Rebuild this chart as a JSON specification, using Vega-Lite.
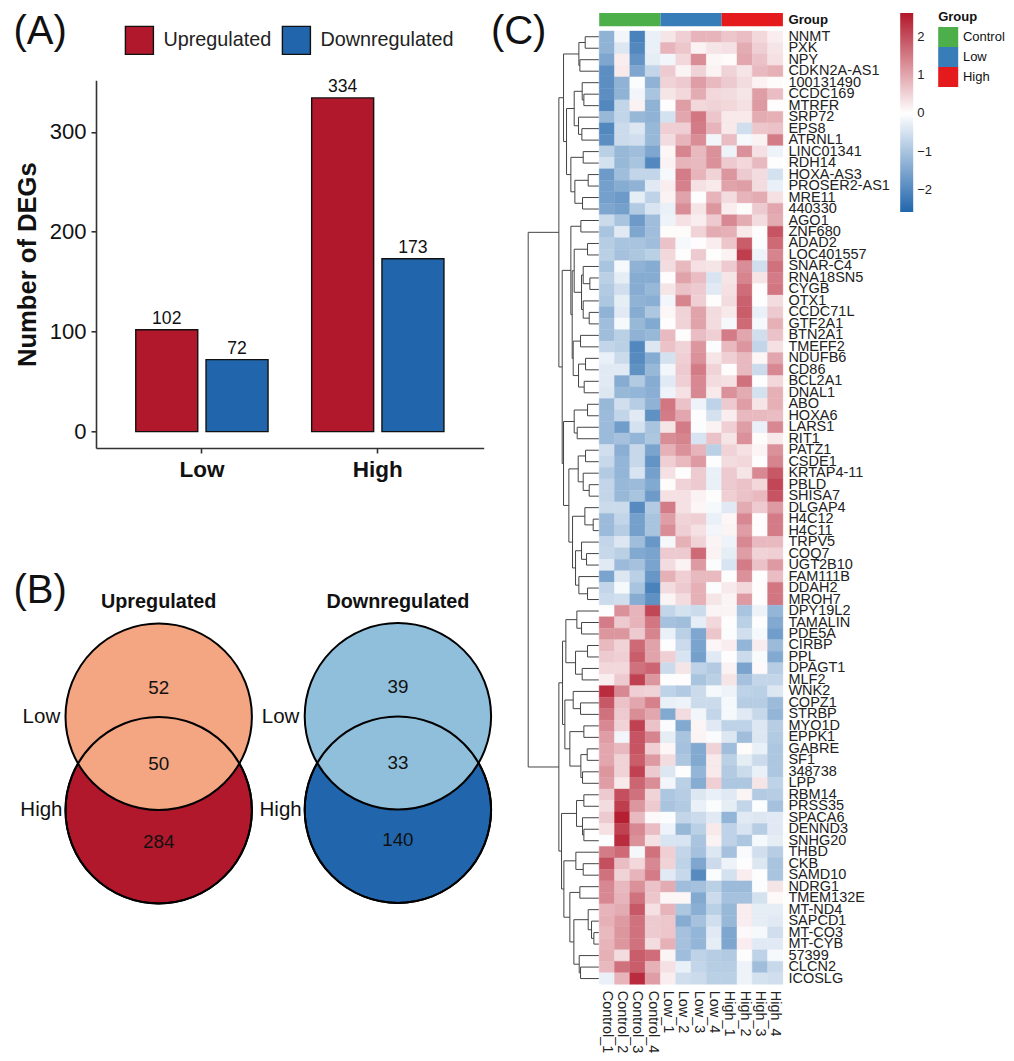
{"$schema":"https://vega.github.io/schema/vega-lite/v6.json","padding":{"left":13,"top":11,"right":0,"bottom":0},"spacing":-5.8,"config":{"font":"Liberation Sans","view":{"stroke":null}},"resolve":{"scale":{"color":"independent","fill":"independent"},"legend":{"color":"independent","fill":"independent"}},"hconcat":[{"bounds":"flush","spacing":66.3,"resolve":{"scale":{"color":"independent","fill":"independent"},"legend":{"color":"independent","fill":"independent"}},"vconcat":[{"width":387.7,"height":1,"data":{"values":[{"tag":"(A)"}]},"mark":{"type":"text","align":"left","baseline":"alphabetic","dx":-82.6,"dy":30.8,"fontSize":40,"color":"#111"},"encoding":{"x":{"value":0},"y":{"value":0},"text":{"field":"tag"}}},{"width":387.7,"height":367.7,"data":{"values":[{"group":"Low","direction":"Upregulated","n":102},{"group":"Low","direction":"Downregulated","n":72},{"group":"High","direction":"Upregulated","n":334},{"group":"High","direction":"Downregulated","n":173}]},"encoding":{"x":{"field":"group","type":"nominal","sort":["Low","High"],"scale":{"paddingInner":0.248,"paddingOuter":0.226},"axis":{"title":null,"labelAngle":0,"labelFontSize":22.5,"labelFontWeight":"bold","labelColor":"#111","domainColor":"#333","domainWidth":1.6,"tickColor":"#333","tickWidth":1.6,"tickSize":5,"labelPadding":5}},"xOffset":{"field":"direction","type":"nominal","sort":["Upregulated","Downregulated"],"scale":{"paddingInner":0.118,"paddingOuter":0}},"y":{"field":"n","type":"quantitative","stack":null,"scale":{"domain":[-16.4,351.6],"nice":false,"zero":false},"axis":{"title":"Number of DEGs","values":[0,100,200,300],"grid":false,"labelFontSize":22,"labelColor":"#111","titleFontSize":25.6,"titleFontWeight":"bold","titleColor":"#111","domainColor":"#333","domainWidth":1.6,"tickColor":"#333","tickWidth":1.6,"tickSize":5,"labelPadding":5,"titlePadding":9}}},"layer":[{"mark":{"type":"bar","stroke":"#111","strokeWidth":1.4},"encoding":{"fill":{"field":"direction","type":"nominal","sort":["Upregulated","Downregulated"],"scale":{"domain":["Upregulated","Downregulated"],"range":["#B2182B","#2166AC"]},"legend":{"orient":"none","legendX":28.4,"legendY":-55,"direction":"horizontal","title":null,"symbolType":"square","symbolSize":784,"symbolStrokeColor":"#111","symbolStrokeWidth":1.4,"labelFontSize":19.8,"labelColor":"#222","labelOffset":9,"columnPadding":8,"labelLimit":300,"padding":0}}}},{"mark":{"type":"text","baseline":"alphabetic","dy":-6,"fontSize":17.6,"color":"#111"},"encoding":{"text":{"field":"n","type":"quantitative"}}}]},{"width":387.7,"height":0.1,"data":{"values":[{"tag":"(B)"}]},"mark":{"type":"text","align":"left","baseline":"alphabetic","dx":-82.6,"dy":88.7,"fontSize":40,"color":"#111"},"encoding":{"x":{"value":0},"y":{"value":0},"text":{"field":"tag"}}},{"width":387.7,"height":340,"encoding":{"x":{"field":"panel","type":"nominal","axis":null,"scale":{"type":"point","domain":["Upregulated","Downregulated"],"range":[62.7,301.9],"padding":0}},"y":{"field":"level","type":"quantitative","axis":null,"scale":{"domain":[0.4,340.4],"reverse":true,"nice":false,"zero":false}}},"layer":[{"data":{"values":[{"panel":"Upregulated","set":"High","level":228.7,"shade":"Up High"},{"panel":"Downregulated","set":"High","level":228.2,"shade":"Down High"},{"panel":"Upregulated","set":"Low","level":135.3,"shade":"Up Low"},{"panel":"Downregulated","set":"Low","level":134.8,"shade":"Down Low"}]},"mark":{"type":"point","filled":true,"size":34745,"stroke":"#000","strokeWidth":2,"opacity":1},"encoding":{"fill":{"field":"shade","type":"nominal","legend":null,"scale":{"domain":["Up High","Down High","Up Low","Down Low"],"range":["#B2182B","#2166AC","#F4A582","#8FBFDB"]}}}},{"data":{"values":[{"panel":"Upregulated","level":228.7},{"panel":"Downregulated","level":228.2}]},"mark":{"type":"point","filled":false,"size":34745,"stroke":"#000","strokeWidth":2,"opacity":1}},{"data":{"values":[{"panel":"Upregulated","region":"Low only","n":52,"level":106},{"panel":"Upregulated","region":"Both","n":50,"level":182.3},{"panel":"Upregulated","region":"High only","n":284,"level":260},{"panel":"Downregulated","region":"Low only","n":39,"level":105.5},{"panel":"Downregulated","region":"Both","n":33,"level":181.5},{"panel":"Downregulated","region":"High only","n":140,"level":258.7}]},"mark":{"type":"text","fontSize":18.8,"baseline":"middle","color":"#111"},"encoding":{"text":{"field":"n","type":"quantitative"}}},{"data":{"values":[{"panel":"Upregulated","set":"Low","level":135.7},{"panel":"Upregulated","set":"High","level":228.5},{"panel":"Downregulated","set":"Low","level":135.5},{"panel":"Downregulated","set":"High","level":228}]},"mark":{"type":"text","fontSize":20.5,"baseline":"middle","align":"center","dx":-117.3,"color":"#111"},"encoding":{"text":{"field":"set","type":"nominal"}}},{"data":{"values":[{"panel":"Upregulated","level":20.7},{"panel":"Downregulated","level":20.3}]},"mark":{"type":"text","fontSize":19.8,"fontWeight":"bold","baseline":"middle","color":"#111"},"encoding":{"text":{"field":"panel","type":"nominal"}}}]}]},{"bounds":"flush","columns":2,"spacing":{"row":4,"column":0},"resolve":{"scale":{"color":"independent","fill":"independent"},"legend":{"color":"independent","fill":"independent"}},"concat":[{"width":70.67,"height":13.3,"data":{"values":[{"tag":"(C)"}]},"mark":{"type":"text","align":"left","baseline":"alphabetic","dx":-37.3,"dy":30.8,"fontSize":40,"color":"#111"},"encoding":{"x":{"value":0},"y":{"value":0},"text":{"field":"tag"}}},{"width":183.7,"height":13.3,"data":{"values":[{"track":"Group","group":"Control"},{"track":"Group","group":"Low"},{"track":"Group","group":"High"}]},"mark":{"type":"rect"},"encoding":{"x":{"field":"group","type":"nominal","sort":null,"axis":null,"scale":{"paddingInner":0,"paddingOuter":0}},"y":{"field":"track","type":"nominal","axis":{"orient":"right","title":null,"domain":false,"ticks":false,"labelPadding":5,"labelFontSize":13.2,"labelFontWeight":"bold","labelColor":"#111"}},"color":{"field":"group","type":"nominal","scale":{"domain":["Control","Low","High"],"range":["#4DAF4A","#377EB8","#E41A1C"]},"legend":{"orient":"none","legendX":339,"legendY":-2,"title":"Group","titleFontSize":13,"titleFontWeight":"bold","titleColor":"#111","titlePadding":3,"symbolType":"square","symbolSize":400,"symbolStrokeWidth":0,"symbolOpacity":1,"labelFontSize":13,"labelColor":"#111","labelOffset":4.7,"rowPadding":0,"padding":0}}}},{"width":70.67,"height":953.3,"data":{"values":[{"h":41,"l":0,"m":0,"a":0,"b":1},{"h":57,"l":0,"m":0,"a":2,"b":3},{"h":60,"l":41,"m":57,"a":0.5,"b":2.5},{"h":45,"l":0,"m":0,"a":5,"b":6},{"h":50,"l":0,"m":45,"a":4,"b":5.5},{"h":51,"l":0,"m":0,"a":8,"b":9},{"h":61,"l":0,"m":51,"a":7,"b":8.5},{"h":74,"l":50,"m":61,"a":4.75,"b":7.75},{"h":47,"l":0,"m":0,"a":10,"b":11},{"h":32,"l":0,"m":0,"a":12,"b":13},{"h":49,"l":0,"m":0,"a":14,"b":15},{"h":72,"l":32,"m":49,"a":12.5,"b":14.5},{"h":84,"l":47,"m":72,"a":10.5,"b":13.5},{"h":97,"l":74,"m":84,"a":6.25,"b":12},{"h":106,"l":60,"m":97,"a":1.5,"b":9.125},{"h":54,"l":0,"m":0,"a":16,"b":17},{"h":34,"l":0,"m":0,"a":18,"b":19},{"h":27,"l":0,"m":0,"a":21,"b":22},{"h":47,"l":0,"m":27,"a":20,"b":21.5},{"h":29,"l":0,"m":0,"a":24,"b":25},{"h":47,"l":0,"m":29,"a":23,"b":24.5},{"h":52,"l":47,"m":47,"a":20.75,"b":23.75},{"h":74,"l":34,"m":52,"a":18.5,"b":22.25},{"h":55,"l":0,"m":0,"a":26,"b":27},{"h":40,"l":0,"m":0,"a":28,"b":29},{"h":44,"l":0,"m":0,"a":30,"b":31},{"h":61,"l":40,"m":44,"a":28.5,"b":30.5},{"h":77,"l":55,"m":61,"a":26.5,"b":29.5},{"h":80,"l":74,"m":77,"a":20.375,"b":28},{"h":84,"l":54,"m":80,"a":16.5,"b":24.19},{"h":34,"l":0,"m":0,"a":32,"b":33},{"h":65,"l":0,"m":0,"a":34,"b":35},{"h":74,"l":34,"m":65,"a":32.5,"b":34.5},{"h":40,"l":0,"m":0,"a":36,"b":37},{"h":29,"l":0,"m":0,"a":39,"b":40},{"h":47,"l":0,"m":29,"a":38,"b":39.5},{"h":62,"l":40,"m":47,"a":36.5,"b":38.75},{"h":17,"l":0,"m":0,"a":42,"b":43},{"h":42,"l":0,"m":17,"a":41,"b":42.5},{"h":37,"l":0,"m":0,"a":45,"b":46},{"h":52,"l":0,"m":37,"a":44,"b":45.5},{"h":34,"l":0,"m":0,"a":48,"b":49},{"h":60,"l":0,"m":34,"a":47,"b":48.5},{"h":70,"l":52,"m":60,"a":44.75,"b":47.75},{"h":79,"l":42,"m":70,"a":41.75,"b":46.25},{"h":90,"l":62,"m":79,"a":37.625,"b":44},{"h":106,"l":74,"m":90,"a":33.5,"b":40.81},{"h":110,"l":84,"m":106,"a":20.34,"b":37.16},{"h":120,"l":106,"m":110,"a":5.31,"b":28.75},{"h":52,"l":0,"m":0,"a":51,"b":52},{"h":66,"l":0,"m":52,"a":50,"b":51.5},{"h":34,"l":0,"m":0,"a":53,"b":54},{"h":50,"l":0,"m":0,"a":55,"b":56},{"h":70,"l":34,"m":50,"a":53.5,"b":55.5},{"h":99,"l":66,"m":70,"a":50.75,"b":54.5},{"h":55,"l":0,"m":0,"a":58,"b":59},{"h":77,"l":0,"m":55,"a":57,"b":58.5},{"h":45,"l":0,"m":0,"a":60,"b":61},{"h":35,"l":0,"m":0,"a":62,"b":63},{"h":49,"l":0,"m":0,"a":64,"b":65},{"h":54,"l":35,"m":49,"a":62.5,"b":64.5},{"h":87,"l":45,"m":54,"a":60.5,"b":63.5},{"h":102,"l":77,"m":87,"a":57.75,"b":62},{"h":109,"l":99,"m":102,"a":52.625,"b":59.875},{"h":45,"l":0,"m":0,"a":66,"b":67},{"h":45,"l":0,"m":0,"a":69,"b":70},{"h":49,"l":0,"m":45,"a":68,"b":69.5},{"h":67,"l":45,"m":49,"a":66.5,"b":68.75},{"h":47,"l":0,"m":0,"a":72,"b":73},{"h":69,"l":0,"m":47,"a":71,"b":72.5},{"h":57,"l":0,"m":0,"a":74,"b":75},{"h":15,"l":0,"m":0,"a":78,"b":79},{"h":22,"l":0,"m":15,"a":77,"b":78.5},{"h":32,"l":0,"m":22,"a":76,"b":77.75},{"h":55,"l":0,"m":0,"a":81,"b":82},{"h":59,"l":0,"m":55,"a":80,"b":81.5},{"h":75,"l":32,"m":59,"a":76.875,"b":80.75},{"h":87,"l":57,"m":75,"a":74.5,"b":78.81},{"h":105,"l":69,"m":87,"a":71.75,"b":76.66},{"h":112,"l":67,"m":105,"a":67.625,"b":74.2},{"h":120,"l":109,"m":112,"a":56.25,"b":70.9},{"h":212,"l":120,"m":120,"a":17.03,"b":63.58}]},"layer":[{"mark":{"type":"rule","color":"#444","strokeWidth":1},"encoding":{"x":{"field":"h","type":"quantitative","axis":null,"scale":{"domain":[212,0],"nice":false,"zero":false}},"y":{"field":"a","type":"quantitative","axis":null,"scale":{"domain":[-0.5,82.5],"reverse":true,"nice":false,"zero":false}},"y2":{"field":"b"}}},{"mark":{"type":"rule","color":"#444","strokeWidth":1},"encoding":{"x":{"field":"l","type":"quantitative"},"x2":{"field":"h"},"y":{"field":"a","type":"quantitative"}}},{"mark":{"type":"rule","color":"#444","strokeWidth":1},"encoding":{"x":{"field":"m","type":"quantitative"},"x2":{"field":"h"},"y":{"field":"b","type":"quantitative"}}}]},{"width":183.7,"height":953.3,"data":{"values":[{"g":"NNMT","s":"Control_1","v":-1.3},{"g":"NNMT","s":"Control_2","v":-0.15},{"g":"NNMT","s":"Control_3","v":-2.1},{"g":"NNMT","s":"Control_4","v":-0.25},{"g":"NNMT","s":"Low_1","v":0.3},{"g":"NNMT","s":"Low_2","v":0.55},{"g":"NNMT","s":"Low_3","v":0.85},{"g":"NNMT","s":"Low_4","v":0.85},{"g":"NNMT","s":"High_1","v":0.65},{"g":"NNMT","s":"High_2","v":0.75},{"g":"NNMT","s":"High_3","v":0.45},{"g":"NNMT","s":"High_4","v":0.2},{"g":"PXK","s":"Control_1","v":-1.3},{"g":"PXK","s":"Control_2","v":-0.4},{"g":"PXK","s":"Control_3","v":-2},{"g":"PXK","s":"Control_4","v":-0.25},{"g":"PXK","s":"Low_1","v":0.85},{"g":"PXK","s":"Low_2","v":0.65},{"g":"PXK","s":"Low_3","v":0.15},{"g":"PXK","s":"Low_4","v":0.3},{"g":"PXK","s":"High_1","v":0.35},{"g":"PXK","s":"High_2","v":0.95},{"g":"PXK","s":"High_3","v":0.55},{"g":"PXK","s":"High_4","v":0.3},{"g":"NPY","s":"Control_1","v":-1.5},{"g":"NPY","s":"Control_2","v":0.2},{"g":"NPY","s":"Control_3","v":-1.8},{"g":"NPY","s":"Control_4","v":-0.3},{"g":"NPY","s":"Low_1","v":-0.15},{"g":"NPY","s":"Low_2","v":0.45},{"g":"NPY","s":"Low_3","v":1.3},{"g":"NPY","s":"Low_4","v":0.1},{"g":"NPY","s":"High_1","v":0.05},{"g":"NPY","s":"High_2","v":1},{"g":"NPY","s":"High_3","v":0.7},{"g":"NPY","s":"High_4","v":0.35},{"g":"CDKN2A-AS1","s":"Control_1","v":-1.9},{"g":"CDKN2A-AS1","s":"Control_2","v":0.25},{"g":"CDKN2A-AS1","s":"Control_3","v":-1.5},{"g":"CDKN2A-AS1","s":"Control_4","v":-0.7},{"g":"CDKN2A-AS1","s":"Low_1","v":0.6},{"g":"CDKN2A-AS1","s":"Low_2","v":0.12},{"g":"CDKN2A-AS1","s":"Low_3","v":0.5},{"g":"CDKN2A-AS1","s":"Low_4","v":0.15},{"g":"CDKN2A-AS1","s":"High_1","v":0.5},{"g":"CDKN2A-AS1","s":"High_2","v":0.3},{"g":"CDKN2A-AS1","s":"High_3","v":0.8},{"g":"CDKN2A-AS1","s":"High_4","v":0.9},{"g":"100131490","s":"Control_1","v":-1.9},{"g":"100131490","s":"Control_2","v":-1.3},{"g":"100131490","s":"Control_3","v":-0.05},{"g":"100131490","s":"Control_4","v":-1.3},{"g":"100131490","s":"Low_1","v":0.5},{"g":"100131490","s":"Low_2","v":0.6},{"g":"100131490","s":"Low_3","v":1.1},{"g":"100131490","s":"Low_4","v":0.8},{"g":"100131490","s":"High_1","v":0.6},{"g":"100131490","s":"High_2","v":0.4},{"g":"100131490","s":"High_3","v":0.15},{"g":"100131490","s":"High_4","v":0.05},{"g":"CCDC169","s":"Control_1","v":-1.9},{"g":"CCDC169","s":"Control_2","v":-1.3},{"g":"CCDC169","s":"Control_3","v":-0.15},{"g":"CCDC169","s":"Control_4","v":-1},{"g":"CCDC169","s":"Low_1","v":0.3},{"g":"CCDC169","s":"Low_2","v":0.45},{"g":"CCDC169","s":"Low_3","v":0.95},{"g":"CCDC169","s":"Low_4","v":0.45},{"g":"CCDC169","s":"High_1","v":0.4},{"g":"CCDC169","s":"High_2","v":0.3},{"g":"CCDC169","s":"High_3","v":1.1},{"g":"CCDC169","s":"High_4","v":0.75},{"g":"MTRFR","s":"Control_1","v":-2},{"g":"MTRFR","s":"Control_2","v":-0.7},{"g":"MTRFR","s":"Control_3","v":0.15},{"g":"MTRFR","s":"Control_4","v":-1.3},{"g":"MTRFR","s":"Low_1","v":0.03},{"g":"MTRFR","s":"Low_2","v":1.1},{"g":"MTRFR","s":"Low_3","v":0.45},{"g":"MTRFR","s":"Low_4","v":0.5},{"g":"MTRFR","s":"High_1","v":0.45},{"g":"MTRFR","s":"High_2","v":0.35},{"g":"MTRFR","s":"High_3","v":1.15},{"g":"MTRFR","s":"High_4","v":0.03},{"g":"SRP72","s":"Control_1","v":-1.2},{"g":"SRP72","s":"Control_2","v":-0.7},{"g":"SRP72","s":"Control_3","v":-1.2},{"g":"SRP72","s":"Control_4","v":-1.3},{"g":"SRP72","s":"Low_1","v":-0.5},{"g":"SRP72","s":"Low_2","v":1},{"g":"SRP72","s":"Low_3","v":1.55},{"g":"SRP72","s":"Low_4","v":0.65},{"g":"SRP72","s":"High_1","v":0.25},{"g":"SRP72","s":"High_2","v":0.25},{"g":"SRP72","s":"High_3","v":0.95},{"g":"SRP72","s":"High_4","v":0.9},{"g":"EPS8","s":"Control_1","v":-2},{"g":"EPS8","s":"Control_2","v":-0.6},{"g":"EPS8","s":"Control_3","v":-0.4},{"g":"EPS8","s":"Control_4","v":-1.2},{"g":"EPS8","s":"Low_1","v":0.55},{"g":"EPS8","s":"Low_2","v":0.55},{"g":"EPS8","s":"Low_3","v":1.5},{"g":"EPS8","s":"Low_4","v":0.85},{"g":"EPS8","s":"High_1","v":0.25},{"g":"EPS8","s":"High_2","v":-0.55},{"g":"EPS8","s":"High_3","v":0.65},{"g":"EPS8","s":"High_4","v":0.7},{"g":"ATRNL1","s":"Control_1","v":-1.9},{"g":"ATRNL1","s":"Control_2","v":-0.6},{"g":"ATRNL1","s":"Control_3","v":-0.55},{"g":"ATRNL1","s":"Control_4","v":-1.2},{"g":"ATRNL1","s":"Low_1","v":0.4},{"g":"ATRNL1","s":"Low_2","v":0.85},{"g":"ATRNL1","s":"Low_3","v":1.3},{"g":"ATRNL1","s":"Low_4","v":-0.15},{"g":"ATRNL1","s":"High_1","v":0.75},{"g":"ATRNL1","s":"High_2","v":-0.1},{"g":"ATRNL1","s":"High_3","v":0.15},{"g":"ATRNL1","s":"High_4","v":1.5},{"g":"LINC01341","s":"Control_1","v":-0.8},{"g":"LINC01341","s":"Control_2","v":-1.2},{"g":"LINC01341","s":"Control_3","v":-1.1},{"g":"LINC01341","s":"Control_4","v":-1.5},{"g":"LINC01341","s":"Low_1","v":0.1},{"g":"LINC01341","s":"Low_2","v":1.4},{"g":"LINC01341","s":"Low_3","v":0.8},{"g":"LINC01341","s":"Low_4","v":1.25},{"g":"LINC01341","s":"High_1","v":-0.2},{"g":"LINC01341","s":"High_2","v":1.25},{"g":"LINC01341","s":"High_3","v":0.35},{"g":"LINC01341","s":"High_4","v":-0.2},{"g":"RDH14","s":"Control_1","v":-0.5},{"g":"RDH14","s":"Control_2","v":-1.2},{"g":"RDH14","s":"Control_3","v":-1},{"g":"RDH14","s":"Control_4","v":-2},{"g":"RDH14","s":"Low_1","v":0.15},{"g":"RDH14","s":"Low_2","v":0.85},{"g":"RDH14","s":"Low_3","v":0.8},{"g":"RDH14","s":"Low_4","v":1.25},{"g":"RDH14","s":"High_1","v":0.6},{"g":"RDH14","s":"High_2","v":0.45},{"g":"RDH14","s":"High_3","v":0.8},{"g":"RDH14","s":"High_4","v":0.02},{"g":"HOXA-AS3","s":"Control_1","v":-1.7},{"g":"HOXA-AS3","s":"Control_2","v":-1.1},{"g":"HOXA-AS3","s":"Control_3","v":-0.7},{"g":"HOXA-AS3","s":"Control_4","v":-0.7},{"g":"HOXA-AS3","s":"Low_1","v":-0.1},{"g":"HOXA-AS3","s":"Low_2","v":1.5},{"g":"HOXA-AS3","s":"Low_3","v":0.85},{"g":"HOXA-AS3","s":"Low_4","v":0.5},{"g":"HOXA-AS3","s":"High_1","v":1.2},{"g":"HOXA-AS3","s":"High_2","v":0.6},{"g":"HOXA-AS3","s":"High_3","v":0.4},{"g":"HOXA-AS3","s":"High_4","v":-0.5},{"g":"PROSER2-AS1","s":"Control_1","v":-1.6},{"g":"PROSER2-AS1","s":"Control_2","v":-1.4},{"g":"PROSER2-AS1","s":"Control_3","v":-1.3},{"g":"PROSER2-AS1","s":"Control_4","v":-0.35},{"g":"PROSER2-AS1","s":"Low_1","v":0.2},{"g":"PROSER2-AS1","s":"Low_2","v":1.45},{"g":"PROSER2-AS1","s":"Low_3","v":0.35},{"g":"PROSER2-AS1","s":"Low_4","v":0.25},{"g":"PROSER2-AS1","s":"High_1","v":1.05},{"g":"PROSER2-AS1","s":"High_2","v":1.1},{"g":"PROSER2-AS1","s":"High_3","v":0.4},{"g":"PROSER2-AS1","s":"High_4","v":-0.25},{"g":"MRE11","s":"Control_1","v":-1.6},{"g":"MRE11","s":"Control_2","v":-1.7},{"g":"MRE11","s":"Control_3","v":-0.3},{"g":"MRE11","s":"Control_4","v":-0.75},{"g":"MRE11","s":"Low_1","v":0.15},{"g":"MRE11","s":"Low_2","v":1.05},{"g":"MRE11","s":"Low_3","v":0.02},{"g":"MRE11","s":"Low_4","v":0.85},{"g":"MRE11","s":"High_1","v":0.4},{"g":"MRE11","s":"High_2","v":0.85},{"g":"MRE11","s":"High_3","v":0.95},{"g":"MRE11","s":"High_4","v":0.35},{"g":"440330","s":"Control_1","v":-1.5},{"g":"440330","s":"Control_2","v":-1.6},{"g":"440330","s":"Control_3","v":-0.9},{"g":"440330","s":"Control_4","v":-0.45},{"g":"440330","s":"Low_1","v":-0.25},{"g":"440330","s":"Low_2","v":1.3},{"g":"440330","s":"Low_3","v":0.3},{"g":"440330","s":"Low_4","v":1.2},{"g":"440330","s":"High_1","v":0.2},{"g":"440330","s":"High_2","v":0.05},{"g":"440330","s":"High_3","v":0.6},{"g":"440330","s":"High_4","v":1},{"g":"AGO1","s":"Control_1","v":-0.6},{"g":"AGO1","s":"Control_2","v":-1},{"g":"AGO1","s":"Control_3","v":-1.7},{"g":"AGO1","s":"Control_4","v":-1.1},{"g":"AGO1","s":"Low_1","v":-0.2},{"g":"AGO1","s":"Low_2","v":0.35},{"g":"AGO1","s":"Low_3","v":0.2},{"g":"AGO1","s":"Low_4","v":0.6},{"g":"AGO1","s":"High_1","v":1.35},{"g":"AGO1","s":"High_2","v":0.95},{"g":"AGO1","s":"High_3","v":0.4},{"g":"AGO1","s":"High_4","v":0.95},{"g":"ZNF680","s":"Control_1","v":-1},{"g":"ZNF680","s":"Control_2","v":-0.35},{"g":"ZNF680","s":"Control_3","v":-1.5},{"g":"ZNF680","s":"Control_4","v":-1.1},{"g":"ZNF680","s":"Low_1","v":0.05},{"g":"ZNF680","s":"Low_2","v":0.05},{"g":"ZNF680","s":"Low_3","v":0.5},{"g":"ZNF680","s":"Low_4","v":0.95},{"g":"ZNF680","s":"High_1","v":0.9},{"g":"ZNF680","s":"High_2","v":0.25},{"g":"ZNF680","s":"High_3","v":0.02},{"g":"ZNF680","s":"High_4","v":1.95},{"g":"ADAD2","s":"Control_1","v":-0.85},{"g":"ADAD2","s":"Control_2","v":-1},{"g":"ADAD2","s":"Control_3","v":-1},{"g":"ADAD2","s":"Control_4","v":-1.1},{"g":"ADAD2","s":"Low_1","v":0.7},{"g":"ADAD2","s":"Low_2","v":-0.1},{"g":"ADAD2","s":"Low_3","v":0.03},{"g":"ADAD2","s":"Low_4","v":0.2},{"g":"ADAD2","s":"High_1","v":0.65},{"g":"ADAD2","s":"High_2","v":1.85},{"g":"ADAD2","s":"High_3","v":-0.05},{"g":"ADAD2","s":"High_4","v":1.7},{"g":"LOC401557","s":"Control_1","v":-0.8},{"g":"LOC401557","s":"Control_2","v":-1.05},{"g":"LOC401557","s":"Control_3","v":-0.95},{"g":"LOC401557","s":"Control_4","v":-0.8},{"g":"LOC401557","s":"Low_1","v":0.45},{"g":"LOC401557","s":"Low_2","v":0.02},{"g":"LOC401557","s":"Low_3","v":0.6},{"g":"LOC401557","s":"Low_4","v":0.02},{"g":"LOC401557","s":"High_1","v":0.15},{"g":"LOC401557","s":"High_2","v":2.2},{"g":"LOC401557","s":"High_3","v":-0.2},{"g":"LOC401557","s":"High_4","v":1.4},{"g":"SNAR-C4","s":"Control_1","v":-1},{"g":"SNAR-C4","s":"Control_2","v":-0.1},{"g":"SNAR-C4","s":"Control_3","v":-1.3},{"g":"SNAR-C4","s":"Control_4","v":-1.4},{"g":"SNAR-C4","s":"Low_1","v":0.4},{"g":"SNAR-C4","s":"Low_2","v":0.8},{"g":"SNAR-C4","s":"Low_3","v":0.35},{"g":"SNAR-C4","s":"Low_4","v":0.3},{"g":"SNAR-C4","s":"High_1","v":0.6},{"g":"SNAR-C4","s":"High_2","v":1.3},{"g":"SNAR-C4","s":"High_3","v":-0.55},{"g":"SNAR-C4","s":"High_4","v":1.6},{"g":"RNA18SN5","s":"Control_1","v":-0.8},{"g":"RNA18SN5","s":"Control_2","v":-0.3},{"g":"RNA18SN5","s":"Control_3","v":-1.4},{"g":"RNA18SN5","s":"Control_4","v":-1.4},{"g":"RNA18SN5","s":"Low_1","v":0.03},{"g":"RNA18SN5","s":"Low_2","v":1.05},{"g":"RNA18SN5","s":"Low_3","v":0.75},{"g":"RNA18SN5","s":"Low_4","v":-0.45},{"g":"RNA18SN5","s":"High_1","v":0.3},{"g":"RNA18SN5","s":"High_2","v":1.4},{"g":"RNA18SN5","s":"High_3","v":0.3},{"g":"RNA18SN5","s":"High_4","v":1.5},{"g":"CYGB","s":"Control_1","v":-0.9},{"g":"CYGB","s":"Control_2","v":-0.55},{"g":"CYGB","s":"Control_3","v":-1.4},{"g":"CYGB","s":"Control_4","v":-1.2},{"g":"CYGB","s":"Low_1","v":0.3},{"g":"CYGB","s":"Low_2","v":0.7},{"g":"CYGB","s":"Low_3","v":0.6},{"g":"CYGB","s":"Low_4","v":-0.35},{"g":"CYGB","s":"High_1","v":0.35},{"g":"CYGB","s":"High_2","v":1.65},{"g":"CYGB","s":"High_3","v":0.03},{"g":"CYGB","s":"High_4","v":1.55},{"g":"OTX1","s":"Control_1","v":-0.95},{"g":"OTX1","s":"Control_2","v":-0.3},{"g":"OTX1","s":"Control_3","v":-1.3},{"g":"OTX1","s":"Control_4","v":-1.35},{"g":"OTX1","s":"Low_1","v":-0.15},{"g":"OTX1","s":"Low_2","v":1.4},{"g":"OTX1","s":"Low_3","v":0.55},{"g":"OTX1","s":"Low_4","v":0.02},{"g":"OTX1","s":"High_1","v":0.4},{"g":"OTX1","s":"High_2","v":1.8},{"g":"OTX1","s":"High_3","v":0.02},{"g":"OTX1","s":"High_4","v":0.4},{"g":"CCDC71L","s":"Control_1","v":-1.3},{"g":"CCDC71L","s":"Control_2","v":-0.35},{"g":"CCDC71L","s":"Control_3","v":-1.4},{"g":"CCDC71L","s":"Control_4","v":-0.95},{"g":"CCDC71L","s":"Low_1","v":0.1},{"g":"CCDC71L","s":"Low_2","v":0.5},{"g":"CCDC71L","s":"Low_3","v":1.05},{"g":"CCDC71L","s":"Low_4","v":0.4},{"g":"CCDC71L","s":"High_1","v":0.25},{"g":"CCDC71L","s":"High_2","v":1.85},{"g":"CCDC71L","s":"High_3","v":-0.25},{"g":"CCDC71L","s":"High_4","v":0.6},{"g":"GTF2A1","s":"Control_1","v":-1.1},{"g":"GTF2A1","s":"Control_2","v":-0.1},{"g":"GTF2A1","s":"Control_3","v":-1.2},{"g":"GTF2A1","s":"Control_4","v":-1.45},{"g":"GTF2A1","s":"Low_1","v":0.03},{"g":"GTF2A1","s":"Low_2","v":0.5},{"g":"GTF2A1","s":"Low_3","v":1.05},{"g":"GTF2A1","s":"Low_4","v":0.4},{"g":"GTF2A1","s":"High_1","v":-0.1},{"g":"GTF2A1","s":"High_2","v":1.7},{"g":"GTF2A1","s":"High_3","v":-0.1},{"g":"GTF2A1","s":"High_4","v":0.9},{"g":"BTN2A1","s":"Control_1","v":-1.1},{"g":"BTN2A1","s":"Control_2","v":-0.8},{"g":"BTN2A1","s":"Control_3","v":-1.3},{"g":"BTN2A1","s":"Control_4","v":-1.2},{"g":"BTN2A1","s":"Low_1","v":0.8},{"g":"BTN2A1","s":"Low_2","v":0.02},{"g":"BTN2A1","s":"Low_3","v":0.75},{"g":"BTN2A1","s":"Low_4","v":0.55},{"g":"BTN2A1","s":"High_1","v":1.5},{"g":"BTN2A1","s":"High_2","v":1},{"g":"BTN2A1","s":"High_3","v":-0.55},{"g":"BTN2A1","s":"High_4","v":0.7},{"g":"TMEFF2","s":"Control_1","v":-0.7},{"g":"TMEFF2","s":"Control_2","v":-0.8},{"g":"TMEFF2","s":"Control_3","v":-2},{"g":"TMEFF2","s":"Control_4","v":-0.4},{"g":"TMEFF2","s":"Low_1","v":0.7},{"g":"TMEFF2","s":"Low_2","v":0.5},{"g":"TMEFF2","s":"Low_3","v":1.2},{"g":"TMEFF2","s":"Low_4","v":-0.05},{"g":"TMEFF2","s":"High_1","v":0.8},{"g":"TMEFF2","s":"High_2","v":1.2},{"g":"TMEFF2","s":"High_3","v":-0.7},{"g":"TMEFF2","s":"High_4","v":0.35},{"g":"NDUFB6","s":"Control_1","v":-0.25},{"g":"NDUFB6","s":"Control_2","v":-0.6},{"g":"NDUFB6","s":"Control_3","v":-1.95},{"g":"NDUFB6","s":"Control_4","v":-1.4},{"g":"NDUFB6","s":"Low_1","v":-0.5},{"g":"NDUFB6","s":"Low_2","v":0.55},{"g":"NDUFB6","s":"Low_3","v":1.25},{"g":"NDUFB6","s":"Low_4","v":0.3},{"g":"NDUFB6","s":"High_1","v":0.55},{"g":"NDUFB6","s":"High_2","v":0.8},{"g":"NDUFB6","s":"High_3","v":0.1},{"g":"NDUFB6","s":"High_4","v":1},{"g":"CD86","s":"Control_1","v":-0.35},{"g":"CD86","s":"Control_2","v":-0.35},{"g":"CD86","s":"Control_3","v":-1.85},{"g":"CD86","s":"Control_4","v":-1.2},{"g":"CD86","s":"Low_1","v":-0.15},{"g":"CD86","s":"Low_2","v":0.6},{"g":"CD86","s":"Low_3","v":1.5},{"g":"CD86","s":"Low_4","v":0.5},{"g":"CD86","s":"High_1","v":0.03},{"g":"CD86","s":"High_2","v":0.8},{"g":"CD86","s":"High_3","v":-0.6},{"g":"CD86","s":"High_4","v":1.35},{"g":"BCL2A1","s":"Control_1","v":-0.35},{"g":"BCL2A1","s":"Control_2","v":-1.4},{"g":"BCL2A1","s":"Control_3","v":-0.9},{"g":"BCL2A1","s":"Control_4","v":-1.4},{"g":"BCL2A1","s":"Low_1","v":-0.35},{"g":"BCL2A1","s":"Low_2","v":0.55},{"g":"BCL2A1","s":"Low_3","v":1.35},{"g":"BCL2A1","s":"Low_4","v":0.4},{"g":"BCL2A1","s":"High_1","v":0.35},{"g":"BCL2A1","s":"High_2","v":1.6},{"g":"BCL2A1","s":"High_3","v":0.02},{"g":"BCL2A1","s":"High_4","v":0.45},{"g":"DNAL1","s":"Control_1","v":-0.4},{"g":"DNAL1","s":"Control_2","v":-1.2},{"g":"DNAL1","s":"Control_3","v":-1.25},{"g":"DNAL1","s":"Control_4","v":-1.35},{"g":"DNAL1","s":"Low_1","v":-0.2},{"g":"DNAL1","s":"Low_2","v":0.35},{"g":"DNAL1","s":"Low_3","v":1.35},{"g":"DNAL1","s":"Low_4","v":0.25},{"g":"DNAL1","s":"High_1","v":1.25},{"g":"DNAL1","s":"High_2","v":0.95},{"g":"DNAL1","s":"High_3","v":-0.5},{"g":"DNAL1","s":"High_4","v":0.9},{"g":"ABO","s":"Control_1","v":-1.2},{"g":"ABO","s":"Control_2","v":-0.55},{"g":"ABO","s":"Control_3","v":-0.85},{"g":"ABO","s":"Control_4","v":-1.3},{"g":"ABO","s":"Low_1","v":1.55},{"g":"ABO","s":"Low_2","v":0.7},{"g":"ABO","s":"Low_3","v":-0.2},{"g":"ABO","s":"Low_4","v":-0.75},{"g":"ABO","s":"High_1","v":0.6},{"g":"ABO","s":"High_2","v":1.1},{"g":"ABO","s":"High_3","v":0.3},{"g":"ABO","s":"High_4","v":0.9},{"g":"HOXA6","s":"Control_1","v":-1.15},{"g":"HOXA6","s":"Control_2","v":-0.7},{"g":"HOXA6","s":"Control_3","v":-0.35},{"g":"HOXA6","s":"Control_4","v":-1.85},{"g":"HOXA6","s":"Low_1","v":1.5},{"g":"HOXA6","s":"Low_2","v":1},{"g":"HOXA6","s":"Low_3","v":0.02},{"g":"HOXA6","s":"Low_4","v":-0.5},{"g":"HOXA6","s":"High_1","v":0.2},{"g":"HOXA6","s":"High_2","v":0.8},{"g":"HOXA6","s":"High_3","v":0.8},{"g":"HOXA6","s":"High_4","v":0.75},{"g":"LARS1","s":"Control_1","v":-1.15},{"g":"LARS1","s":"Control_2","v":-1.65},{"g":"LARS1","s":"Control_3","v":-0.5},{"g":"LARS1","s":"Control_4","v":-1},{"g":"LARS1","s":"Low_1","v":0.3},{"g":"LARS1","s":"Low_2","v":1.5},{"g":"LARS1","s":"Low_3","v":-0.05},{"g":"LARS1","s":"Low_4","v":0.15},{"g":"LARS1","s":"High_1","v":0.55},{"g":"LARS1","s":"High_2","v":1.1},{"g":"LARS1","s":"High_3","v":-0.25},{"g":"LARS1","s":"High_4","v":1.35},{"g":"RIT1","s":"Control_1","v":-1.15},{"g":"RIT1","s":"Control_2","v":-1.05},{"g":"RIT1","s":"Control_3","v":-1.25},{"g":"RIT1","s":"Control_4","v":-0.95},{"g":"RIT1","s":"Low_1","v":1.3},{"g":"RIT1","s":"Low_2","v":1.4},{"g":"RIT1","s":"Low_3","v":-0.45},{"g":"RIT1","s":"Low_4","v":0.7},{"g":"RIT1","s":"High_1","v":0.3},{"g":"RIT1","s":"High_2","v":1.25},{"g":"RIT1","s":"High_3","v":0.05},{"g":"RIT1","s":"High_4","v":0.25},{"g":"PATZ1","s":"Control_1","v":-0.55},{"g":"PATZ1","s":"Control_2","v":-1.35},{"g":"PATZ1","s":"Control_3","v":-0.65},{"g":"PATZ1","s":"Control_4","v":-1.55},{"g":"PATZ1","s":"Low_1","v":0.9},{"g":"PATZ1","s":"Low_2","v":1.25},{"g":"PATZ1","s":"Low_3","v":0.85},{"g":"PATZ1","s":"Low_4","v":-0.8},{"g":"PATZ1","s":"High_1","v":0.5},{"g":"PATZ1","s":"High_2","v":0.35},{"g":"PATZ1","s":"High_3","v":0.12},{"g":"PATZ1","s":"High_4","v":1.25},{"g":"CSDE1","s":"Control_1","v":-0.65},{"g":"CSDE1","s":"Control_2","v":-1.25},{"g":"CSDE1","s":"Control_3","v":-0.65},{"g":"CSDE1","s":"Control_4","v":-1.8},{"g":"CSDE1","s":"Low_1","v":0.55},{"g":"CSDE1","s":"Low_2","v":0.8},{"g":"CSDE1","s":"Low_3","v":1.15},{"g":"CSDE1","s":"Low_4","v":0.02},{"g":"CSDE1","s":"High_1","v":0.4},{"g":"CSDE1","s":"High_2","v":0.45},{"g":"CSDE1","s":"High_3","v":0.02},{"g":"CSDE1","s":"High_4","v":1.4},{"g":"KRTAP4-11","s":"Control_1","v":-0.9},{"g":"KRTAP4-11","s":"Control_2","v":-1.25},{"g":"KRTAP4-11","s":"Control_3","v":-0.45},{"g":"KRTAP4-11","s":"Control_4","v":-1.6},{"g":"KRTAP4-11","s":"Low_1","v":0.35},{"g":"KRTAP4-11","s":"Low_2","v":0.02},{"g":"KRTAP4-11","s":"Low_3","v":0.6},{"g":"KRTAP4-11","s":"Low_4","v":-0.25},{"g":"KRTAP4-11","s":"High_1","v":0.6},{"g":"KRTAP4-11","s":"High_2","v":0.3},{"g":"KRTAP4-11","s":"High_3","v":1.35},{"g":"KRTAP4-11","s":"High_4","v":1.9},{"g":"PBLD","s":"Control_1","v":-0.7},{"g":"PBLD","s":"Control_2","v":-1.2},{"g":"PBLD","s":"Control_3","v":-1.15},{"g":"PBLD","s":"Control_4","v":-1.45},{"g":"PBLD","s":"Low_1","v":0.05},{"g":"PBLD","s":"Low_2","v":0.5},{"g":"PBLD","s":"Low_3","v":0.6},{"g":"PBLD","s":"Low_4","v":-0.25},{"g":"PBLD","s":"High_1","v":0.6},{"g":"PBLD","s":"High_2","v":0.7},{"g":"PBLD","s":"High_3","v":0.45},{"g":"PBLD","s":"High_4","v":2.1},{"g":"SHISA7","s":"Control_1","v":-0.7},{"g":"SHISA7","s":"Control_2","v":-1.2},{"g":"SHISA7","s":"Control_3","v":-1},{"g":"SHISA7","s":"Control_4","v":-1.7},{"g":"SHISA7","s":"Low_1","v":0.35},{"g":"SHISA7","s":"Low_2","v":0.35},{"g":"SHISA7","s":"Low_3","v":0.15},{"g":"SHISA7","s":"Low_4","v":0.02},{"g":"SHISA7","s":"High_1","v":0.55},{"g":"SHISA7","s":"High_2","v":0.7},{"g":"SHISA7","s":"High_3","v":0.8},{"g":"SHISA7","s":"High_4","v":1.95},{"g":"DLGAP4","s":"Control_1","v":-0.6},{"g":"DLGAP4","s":"Control_2","v":-0.6},{"g":"DLGAP4","s":"Control_3","v":-1.95},{"g":"DLGAP4","s":"Control_4","v":-0.9},{"g":"DLGAP4","s":"Low_1","v":1.5},{"g":"DLGAP4","s":"Low_2","v":0.35},{"g":"DLGAP4","s":"Low_3","v":0.1},{"g":"DLGAP4","s":"Low_4","v":-0.1},{"g":"DLGAP4","s":"High_1","v":-0.35},{"g":"DLGAP4","s":"High_2","v":0.95},{"g":"DLGAP4","s":"High_3","v":0.6},{"g":"DLGAP4","s":"High_4","v":1.15},{"g":"H4C12","s":"Control_1","v":-1.15},{"g":"H4C12","s":"Control_2","v":-0.7},{"g":"H4C12","s":"Control_3","v":-1.6},{"g":"H4C12","s":"Control_4","v":-1},{"g":"H4C12","s":"Low_1","v":1.1},{"g":"H4C12","s":"Low_2","v":0.5},{"g":"H4C12","s":"Low_3","v":0.55},{"g":"H4C12","s":"Low_4","v":-0.25},{"g":"H4C12","s":"High_1","v":0.1},{"g":"H4C12","s":"High_2","v":1.35},{"g":"H4C12","s":"High_3","v":0.03},{"g":"H4C12","s":"High_4","v":1.5},{"g":"H4C11","s":"Control_1","v":-1.15},{"g":"H4C11","s":"Control_2","v":-0.85},{"g":"H4C11","s":"Control_3","v":-1.6},{"g":"H4C11","s":"Control_4","v":-1},{"g":"H4C11","s":"Low_1","v":1.3},{"g":"H4C11","s":"Low_2","v":0.55},{"g":"H4C11","s":"Low_3","v":0.35},{"g":"H4C11","s":"Low_4","v":-0.15},{"g":"H4C11","s":"High_1","v":0.12},{"g":"H4C11","s":"High_2","v":1.1},{"g":"H4C11","s":"High_3","v":0.03},{"g":"H4C11","s":"High_4","v":1.5},{"g":"TRPV5","s":"Control_1","v":-0.7},{"g":"TRPV5","s":"Control_2","v":-0.4},{"g":"TRPV5","s":"Control_3","v":-1.1},{"g":"TRPV5","s":"Control_4","v":-1.75},{"g":"TRPV5","s":"Low_1","v":-0.12},{"g":"TRPV5","s":"Low_2","v":0.9},{"g":"TRPV5","s":"Low_3","v":0.5},{"g":"TRPV5","s":"Low_4","v":0.12},{"g":"TRPV5","s":"High_1","v":-0.2},{"g":"TRPV5","s":"High_2","v":1.35},{"g":"TRPV5","s":"High_3","v":0.8},{"g":"TRPV5","s":"High_4","v":0.8},{"g":"COQ7","s":"Control_1","v":-0.65},{"g":"COQ7","s":"Control_2","v":-0.8},{"g":"COQ7","s":"Control_3","v":-1.45},{"g":"COQ7","s":"Control_4","v":-1.55},{"g":"COQ7","s":"Low_1","v":0.6},{"g":"COQ7","s":"Low_2","v":0.6},{"g":"COQ7","s":"Low_3","v":1.7},{"g":"COQ7","s":"Low_4","v":0.15},{"g":"COQ7","s":"High_1","v":-0.3},{"g":"COQ7","s":"High_2","v":1.1},{"g":"COQ7","s":"High_3","v":0.5},{"g":"COQ7","s":"High_4","v":0.55},{"g":"UGT2B10","s":"Control_1","v":-0.35},{"g":"UGT2B10","s":"Control_2","v":-1.15},{"g":"UGT2B10","s":"Control_3","v":-1.05},{"g":"UGT2B10","s":"Control_4","v":-1.55},{"g":"UGT2B10","s":"Low_1","v":0.4},{"g":"UGT2B10","s":"Low_2","v":0.15},{"g":"UGT2B10","s":"Low_3","v":1.15},{"g":"UGT2B10","s":"Low_4","v":-0.05},{"g":"UGT2B10","s":"High_1","v":-0.45},{"g":"UGT2B10","s":"High_2","v":1.5},{"g":"UGT2B10","s":"High_3","v":0.7},{"g":"UGT2B10","s":"High_4","v":1.15},{"g":"FAM111B","s":"Control_1","v":-1.55},{"g":"FAM111B","s":"Control_2","v":-0.4},{"g":"FAM111B","s":"Control_3","v":-0.8},{"g":"FAM111B","s":"Control_4","v":-1.75},{"g":"FAM111B","s":"Low_1","v":0.9},{"g":"FAM111B","s":"Low_2","v":0.55},{"g":"FAM111B","s":"Low_3","v":0.8},{"g":"FAM111B","s":"Low_4","v":0.8},{"g":"FAM111B","s":"High_1","v":0.02},{"g":"FAM111B","s":"High_2","v":1.25},{"g":"FAM111B","s":"High_3","v":0.02},{"g":"FAM111B","s":"High_4","v":0.75},{"g":"DDAH2","s":"Control_1","v":-0.7},{"g":"DDAH2","s":"Control_2","v":-0.1},{"g":"DDAH2","s":"Control_3","v":-1},{"g":"DDAH2","s":"Control_4","v":-2.1},{"g":"DDAH2","s":"Low_1","v":0.4},{"g":"DDAH2","s":"Low_2","v":0.6},{"g":"DDAH2","s":"Low_3","v":0.9},{"g":"DDAH2","s":"Low_4","v":-0.05},{"g":"DDAH2","s":"High_1","v":0.25},{"g":"DDAH2","s":"High_2","v":0.45},{"g":"DDAH2","s":"High_3","v":0.03},{"g":"DDAH2","s":"High_4","v":1.55},{"g":"MROH7","s":"Control_1","v":-0.6},{"g":"MROH7","s":"Control_2","v":-0.55},{"g":"MROH7","s":"Control_3","v":-1.4},{"g":"MROH7","s":"Control_4","v":-1.85},{"g":"MROH7","s":"Low_1","v":0.12},{"g":"MROH7","s":"Low_2","v":0.4},{"g":"MROH7","s":"Low_3","v":0.9},{"g":"MROH7","s":"Low_4","v":0.3},{"g":"MROH7","s":"High_1","v":0.12},{"g":"MROH7","s":"High_2","v":1.15},{"g":"MROH7","s":"High_3","v":0.02},{"g":"MROH7","s":"High_4","v":1.55},{"g":"DPY19L2","s":"Control_1","v":0.02},{"g":"DPY19L2","s":"Control_2","v":1.25},{"g":"DPY19L2","s":"Control_3","v":0.85},{"g":"DPY19L2","s":"Control_4","v":2.1},{"g":"DPY19L2","s":"Low_1","v":-0.7},{"g":"DPY19L2","s":"Low_2","v":-0.5},{"g":"DPY19L2","s":"Low_3","v":-0.6},{"g":"DPY19L2","s":"Low_4","v":0.12},{"g":"DPY19L2","s":"High_1","v":0.12},{"g":"DPY19L2","s":"High_2","v":-1},{"g":"DPY19L2","s":"High_3","v":-0.2},{"g":"DPY19L2","s":"High_4","v":-1.25},{"g":"TAMALIN","s":"Control_1","v":1.5},{"g":"TAMALIN","s":"Control_2","v":0.6},{"g":"TAMALIN","s":"Control_3","v":0.85},{"g":"TAMALIN","s":"Control_4","v":1.55},{"g":"TAMALIN","s":"Low_1","v":-1.05},{"g":"TAMALIN","s":"Low_2","v":-1.1},{"g":"TAMALIN","s":"Low_3","v":-0.3},{"g":"TAMALIN","s":"Low_4","v":0.45},{"g":"TAMALIN","s":"High_1","v":0.02},{"g":"TAMALIN","s":"High_2","v":-0.8},{"g":"TAMALIN","s":"High_3","v":0.02},{"g":"TAMALIN","s":"High_4","v":-1.45},{"g":"PDE5A","s":"Control_1","v":1.2},{"g":"PDE5A","s":"Control_2","v":1.2},{"g":"PDE5A","s":"Control_3","v":0.6},{"g":"PDE5A","s":"Control_4","v":1.4},{"g":"PDE5A","s":"Low_1","v":-0.25},{"g":"PDE5A","s":"Low_2","v":-0.8},{"g":"PDE5A","s":"Low_3","v":-1.5},{"g":"PDE5A","s":"Low_4","v":0.65},{"g":"PDE5A","s":"High_1","v":-0.05},{"g":"PDE5A","s":"High_2","v":-0.55},{"g":"PDE5A","s":"High_3","v":-0.1},{"g":"PDE5A","s":"High_4","v":-1.65},{"g":"CIRBP","s":"Control_1","v":0.8},{"g":"CIRBP","s":"Control_2","v":0.5},{"g":"CIRBP","s":"Control_3","v":1.7},{"g":"CIRBP","s":"Control_4","v":1.05},{"g":"CIRBP","s":"Low_1","v":0.02},{"g":"CIRBP","s":"Low_2","v":-0.6},{"g":"CIRBP","s":"Low_3","v":-1.55},{"g":"CIRBP","s":"Low_4","v":0.1},{"g":"CIRBP","s":"High_1","v":0.2},{"g":"CIRBP","s":"High_2","v":-1.25},{"g":"CIRBP","s":"High_3","v":0.2},{"g":"CIRBP","s":"High_4","v":-1.15},{"g":"PPL","s":"Control_1","v":0.6},{"g":"PPL","s":"Control_2","v":0.55},{"g":"PPL","s":"Control_3","v":1.85},{"g":"PPL","s":"Control_4","v":1.05},{"g":"PPL","s":"Low_1","v":0.55},{"g":"PPL","s":"Low_2","v":-0.45},{"g":"PPL","s":"Low_3","v":-1.6},{"g":"PPL","s":"Low_4","v":-0.35},{"g":"PPL","s":"High_1","v":0.03},{"g":"PPL","s":"High_2","v":-0.6},{"g":"PPL","s":"High_3","v":-0.08},{"g":"PPL","s":"High_4","v":-1.45},{"g":"DPAGT1","s":"Control_1","v":0.45},{"g":"DPAGT1","s":"Control_2","v":0.45},{"g":"DPAGT1","s":"Control_3","v":1.6},{"g":"DPAGT1","s":"Control_4","v":1.75},{"g":"DPAGT1","s":"Low_1","v":-0.6},{"g":"DPAGT1","s":"Low_2","v":0.3},{"g":"DPAGT1","s":"Low_3","v":-0.75},{"g":"DPAGT1","s":"Low_4","v":-0.9},{"g":"DPAGT1","s":"High_1","v":0.15},{"g":"DPAGT1","s":"High_2","v":-1.55},{"g":"DPAGT1","s":"High_3","v":0.08},{"g":"DPAGT1","s":"High_4","v":-0.85},{"g":"MLF2","s":"Control_1","v":0.2},{"g":"MLF2","s":"Control_2","v":0.6},{"g":"MLF2","s":"Control_3","v":2.15},{"g":"MLF2","s":"Control_4","v":1.2},{"g":"MLF2","s":"Low_1","v":0.02},{"g":"MLF2","s":"Low_2","v":0.03},{"g":"MLF2","s":"Low_3","v":-1},{"g":"MLF2","s":"Low_4","v":-0.8},{"g":"MLF2","s":"High_1","v":0.3},{"g":"MLF2","s":"High_2","v":-1.05},{"g":"MLF2","s":"High_3","v":-0.7},{"g":"MLF2","s":"High_4","v":-0.7},{"g":"WNK2","s":"Control_1","v":2.4},{"g":"WNK2","s":"Control_2","v":1.35},{"g":"WNK2","s":"Control_3","v":0.55},{"g":"WNK2","s":"Control_4","v":0.5},{"g":"WNK2","s":"Low_1","v":-0.75},{"g":"WNK2","s":"Low_2","v":-0.9},{"g":"WNK2","s":"Low_3","v":-0.6},{"g":"WNK2","s":"Low_4","v":-0.1},{"g":"WNK2","s":"High_1","v":-0.2},{"g":"WNK2","s":"High_2","v":-0.75},{"g":"WNK2","s":"High_3","v":-0.8},{"g":"WNK2","s":"High_4","v":-0.4},{"g":"COPZ1","s":"Control_1","v":1.9},{"g":"COPZ1","s":"Control_2","v":0.7},{"g":"COPZ1","s":"Control_3","v":1},{"g":"COPZ1","s":"Control_4","v":1.45},{"g":"COPZ1","s":"Low_1","v":-0.25},{"g":"COPZ1","s":"Low_2","v":-0.2},{"g":"COPZ1","s":"Low_3","v":-0.6},{"g":"COPZ1","s":"Low_4","v":-0.6},{"g":"COPZ1","s":"High_1","v":-0.1},{"g":"COPZ1","s":"High_2","v":-0.85},{"g":"COPZ1","s":"High_3","v":-0.85},{"g":"COPZ1","s":"High_4","v":-1.15},{"g":"STRBP","s":"Control_1","v":1.6},{"g":"STRBP","s":"Control_2","v":0.6},{"g":"STRBP","s":"Control_3","v":1.3},{"g":"STRBP","s":"Control_4","v":1},{"g":"STRBP","s":"Low_1","v":-1.45},{"g":"STRBP","s":"Low_2","v":0.4},{"g":"STRBP","s":"Low_3","v":-0.15},{"g":"STRBP","s":"Low_4","v":-0.7},{"g":"STRBP","s":"High_1","v":-0.1},{"g":"STRBP","s":"High_2","v":-0.35},{"g":"STRBP","s":"High_3","v":-0.65},{"g":"STRBP","s":"High_4","v":-1.25},{"g":"MYO1D","s":"Control_1","v":1.35},{"g":"MYO1D","s":"Control_2","v":0.5},{"g":"MYO1D","s":"Control_3","v":2.15},{"g":"MYO1D","s":"Control_4","v":0.7},{"g":"MYO1D","s":"Low_1","v":-0.07},{"g":"MYO1D","s":"Low_2","v":-1.45},{"g":"MYO1D","s":"Low_3","v":0.12},{"g":"MYO1D","s":"Low_4","v":-0.35},{"g":"MYO1D","s":"High_1","v":-0.75},{"g":"MYO1D","s":"High_2","v":-0.75},{"g":"MYO1D","s":"High_3","v":-0.4},{"g":"MYO1D","s":"High_4","v":-0.85},{"g":"EPPK1","s":"Control_1","v":1.1},{"g":"EPPK1","s":"Control_2","v":-0.15},{"g":"EPPK1","s":"Control_3","v":1.95},{"g":"EPPK1","s":"Control_4","v":1.4},{"g":"EPPK1","s":"Low_1","v":-0.3},{"g":"EPPK1","s":"Low_2","v":-1},{"g":"EPPK1","s":"Low_3","v":0.12},{"g":"EPPK1","s":"Low_4","v":-0.07},{"g":"EPPK1","s":"High_1","v":-0.4},{"g":"EPPK1","s":"High_2","v":-1.1},{"g":"EPPK1","s":"High_3","v":-0.4},{"g":"EPPK1","s":"High_4","v":-0.9},{"g":"GABRE","s":"Control_1","v":1},{"g":"GABRE","s":"Control_2","v":0.8},{"g":"GABRE","s":"Control_3","v":1.95},{"g":"GABRE","s":"Control_4","v":0.55},{"g":"GABRE","s":"Low_1","v":0.1},{"g":"GABRE","s":"Low_2","v":-1.05},{"g":"GABRE","s":"Low_3","v":-1.45},{"g":"GABRE","s":"Low_4","v":0.5},{"g":"GABRE","s":"High_1","v":-1.1},{"g":"GABRE","s":"High_2","v":0.05},{"g":"GABRE","s":"High_3","v":-0.25},{"g":"GABRE","s":"High_4","v":-0.95},{"g":"SF1","s":"Control_1","v":1},{"g":"SF1","s":"Control_2","v":0.5},{"g":"SF1","s":"Control_3","v":1.85},{"g":"SF1","s":"Control_4","v":1.15},{"g":"SF1","s":"Low_1","v":0.4},{"g":"SF1","s":"Low_2","v":-0.95},{"g":"SF1","s":"Low_3","v":-1.45},{"g":"SF1","s":"Low_4","v":0.25},{"g":"SF1","s":"High_1","v":-0.8},{"g":"SF1","s":"High_2","v":-0.3},{"g":"SF1","s":"High_3","v":-0.6},{"g":"SF1","s":"High_4","v":-0.95},{"g":"348738","s":"Control_1","v":1.2},{"g":"348738","s":"Control_2","v":0.5},{"g":"348738","s":"Control_3","v":2.15},{"g":"348738","s":"Control_4","v":0.6},{"g":"348738","s":"Low_1","v":-0.4},{"g":"348738","s":"Low_2","v":0.02},{"g":"348738","s":"Low_3","v":-1.25},{"g":"348738","s":"Low_4","v":0.25},{"g":"348738","s":"High_1","v":-0.9},{"g":"348738","s":"High_2","v":-0.6},{"g":"348738","s":"High_3","v":-0.25},{"g":"348738","s":"High_4","v":-0.95},{"g":"LPP","s":"Control_1","v":1.1},{"g":"LPP","s":"Control_2","v":0.25},{"g":"LPP","s":"Control_3","v":1.75},{"g":"LPP","s":"Control_4","v":1.3},{"g":"LPP","s":"Low_1","v":-0.15},{"g":"LPP","s":"Low_2","v":-0.8},{"g":"LPP","s":"Low_3","v":-1.4},{"g":"LPP","s":"Low_4","v":0.55},{"g":"LPP","s":"High_1","v":-0.95},{"g":"LPP","s":"High_2","v":-0.95},{"g":"LPP","s":"High_3","v":0.3},{"g":"LPP","s":"High_4","v":-0.75},{"g":"RBM14","s":"Control_1","v":0.6},{"g":"RBM14","s":"Control_2","v":2},{"g":"RBM14","s":"Control_3","v":1.6},{"g":"RBM14","s":"Control_4","v":0.5},{"g":"RBM14","s":"Low_1","v":-0.95},{"g":"RBM14","s":"Low_2","v":-0.85},{"g":"RBM14","s":"Low_3","v":-0.4},{"g":"RBM14","s":"Low_4","v":-0.25},{"g":"RBM14","s":"High_1","v":-0.35},{"g":"RBM14","s":"High_2","v":0.12},{"g":"RBM14","s":"High_3","v":-0.9},{"g":"RBM14","s":"High_4","v":-0.85},{"g":"PRSS35","s":"Control_1","v":0.4},{"g":"PRSS35","s":"Control_2","v":2.2},{"g":"PRSS35","s":"Control_3","v":1.2},{"g":"PRSS35","s":"Control_4","v":0.6},{"g":"PRSS35","s":"Low_1","v":-1},{"g":"PRSS35","s":"Low_2","v":-0.9},{"g":"PRSS35","s":"Low_3","v":-0.25},{"g":"PRSS35","s":"Low_4","v":-0.05},{"g":"PRSS35","s":"High_1","v":-0.3},{"g":"PRSS35","s":"High_2","v":-0.7},{"g":"PRSS35","s":"High_3","v":-0.05},{"g":"PRSS35","s":"High_4","v":-1.05},{"g":"SPACA6","s":"Control_1","v":0.6},{"g":"SPACA6","s":"Control_2","v":2.55},{"g":"SPACA6","s":"Control_3","v":0.8},{"g":"SPACA6","s":"Control_4","v":0.08},{"g":"SPACA6","s":"Low_1","v":-0.05},{"g":"SPACA6","s":"Low_2","v":-0.7},{"g":"SPACA6","s":"Low_3","v":-0.6},{"g":"SPACA6","s":"Low_4","v":-0.35},{"g":"SPACA6","s":"High_1","v":-1.25},{"g":"SPACA6","s":"High_2","v":-0.35},{"g":"SPACA6","s":"High_3","v":-0.4},{"g":"SPACA6","s":"High_4","v":-0.35},{"g":"DENND3","s":"Control_1","v":0.35},{"g":"DENND3","s":"Control_2","v":2.15},{"g":"DENND3","s":"Control_3","v":1.35},{"g":"DENND3","s":"Control_4","v":0.75},{"g":"DENND3","s":"Low_1","v":-0.2},{"g":"DENND3","s":"Low_2","v":-1.2},{"g":"DENND3","s":"Low_3","v":-0.8},{"g":"DENND3","s":"Low_4","v":0.25},{"g":"DENND3","s":"High_1","v":-0.75},{"g":"DENND3","s":"High_2","v":-0.45},{"g":"DENND3","s":"High_3","v":-0.85},{"g":"DENND3","s":"High_4","v":-0.35},{"g":"SNHG20","s":"Control_1","v":-0.05},{"g":"SNHG20","s":"Control_2","v":2.4},{"g":"SNHG20","s":"Control_3","v":1.25},{"g":"SNHG20","s":"Control_4","v":0.35},{"g":"SNHG20","s":"Low_1","v":-0.45},{"g":"SNHG20","s":"Low_2","v":-0.45},{"g":"SNHG20","s":"Low_3","v":-1},{"g":"SNHG20","s":"Low_4","v":0.15},{"g":"SNHG20","s":"High_1","v":-0.75},{"g":"SNHG20","s":"High_2","v":-0.95},{"g":"SNHG20","s":"High_3","v":-0.1},{"g":"SNHG20","s":"High_4","v":-0.3},{"g":"THBD","s":"Control_1","v":1.5},{"g":"THBD","s":"Control_2","v":1.7},{"g":"THBD","s":"Control_3","v":-0.12},{"g":"THBD","s":"Control_4","v":1.6},{"g":"THBD","s":"Low_1","v":0.55},{"g":"THBD","s":"Low_2","v":-0.7},{"g":"THBD","s":"Low_3","v":-1.05},{"g":"THBD","s":"Low_4","v":-0.4},{"g":"THBD","s":"High_1","v":-1.05},{"g":"THBD","s":"High_2","v":-0.08},{"g":"THBD","s":"High_3","v":-0.55},{"g":"THBD","s":"High_4","v":-0.85},{"g":"CKB","s":"Control_1","v":2},{"g":"CKB","s":"Control_2","v":0.75},{"g":"CKB","s":"Control_3","v":0.45},{"g":"CKB","s":"Control_4","v":1.35},{"g":"CKB","s":"Low_1","v":0.5},{"g":"CKB","s":"Low_2","v":-0.75},{"g":"CKB","s":"Low_3","v":-1.5},{"g":"CKB","s":"Low_4","v":-0.6},{"g":"CKB","s":"High_1","v":-0.2},{"g":"CKB","s":"High_2","v":0.02},{"g":"CKB","s":"High_3","v":-0.4},{"g":"CKB","s":"High_4","v":-1},{"g":"SAMD10","s":"Control_1","v":1.6},{"g":"SAMD10","s":"Control_2","v":0.5},{"g":"SAMD10","s":"Control_3","v":0.85},{"g":"SAMD10","s":"Control_4","v":1.5},{"g":"SAMD10","s":"Low_1","v":-0.35},{"g":"SAMD10","s":"Low_2","v":-0.65},{"g":"SAMD10","s":"Low_3","v":-1.95},{"g":"SAMD10","s":"Low_4","v":-0.05},{"g":"SAMD10","s":"High_1","v":-0.5},{"g":"SAMD10","s":"High_2","v":0.2},{"g":"SAMD10","s":"High_3","v":0.02},{"g":"SAMD10","s":"High_4","v":-1},{"g":"NDRG1","s":"Control_1","v":1.35},{"g":"NDRG1","s":"Control_2","v":0.8},{"g":"NDRG1","s":"Control_3","v":1.25},{"g":"NDRG1","s":"Control_4","v":0.7},{"g":"NDRG1","s":"Low_1","v":0.95},{"g":"NDRG1","s":"Low_2","v":-1.1},{"g":"NDRG1","s":"Low_3","v":-1.05},{"g":"NDRG1","s":"Low_4","v":-0.8},{"g":"NDRG1","s":"High_1","v":-1.15},{"g":"NDRG1","s":"High_2","v":-1.15},{"g":"NDRG1","s":"High_3","v":-0.05},{"g":"NDRG1","s":"High_4","v":0.3},{"g":"TMEM132E","s":"Control_1","v":1.35},{"g":"TMEM132E","s":"Control_2","v":0.85},{"g":"TMEM132E","s":"Control_3","v":1.6},{"g":"TMEM132E","s":"Control_4","v":0.65},{"g":"TMEM132E","s":"Low_1","v":0.1},{"g":"TMEM132E","s":"Low_2","v":0.1},{"g":"TMEM132E","s":"Low_3","v":-1.45},{"g":"TMEM132E","s":"Low_4","v":-0.6},{"g":"TMEM132E","s":"High_1","v":-1.05},{"g":"TMEM132E","s":"High_2","v":-1.05},{"g":"TMEM132E","s":"High_3","v":-0.5},{"g":"TMEM132E","s":"High_4","v":0.07},{"g":"MT-ND4","s":"Control_1","v":0.85},{"g":"MT-ND4","s":"Control_2","v":0.95},{"g":"MT-ND4","s":"Control_3","v":1.9},{"g":"MT-ND4","s":"Control_4","v":0.35},{"g":"MT-ND4","s":"Low_1","v":0.85},{"g":"MT-ND4","s":"Low_2","v":-0.95},{"g":"MT-ND4","s":"Low_3","v":-1.35},{"g":"MT-ND4","s":"Low_4","v":-0.8},{"g":"MT-ND4","s":"High_1","v":-1.2},{"g":"MT-ND4","s":"High_2","v":0.2},{"g":"MT-ND4","s":"High_3","v":-0.3},{"g":"MT-ND4","s":"High_4","v":-0.3},{"g":"SAPCD1","s":"Control_1","v":0.9},{"g":"SAPCD1","s":"Control_2","v":1.15},{"g":"SAPCD1","s":"Control_3","v":1.6},{"g":"SAPCD1","s":"Control_4","v":0.6},{"g":"SAPCD1","s":"Low_1","v":0.65},{"g":"SAPCD1","s":"Low_2","v":-1.4},{"g":"SAPCD1","s":"Low_3","v":-1.05},{"g":"SAPCD1","s":"Low_4","v":-0.55},{"g":"SAPCD1","s":"High_1","v":-1.2},{"g":"SAPCD1","s":"High_2","v":0.2},{"g":"SAPCD1","s":"High_3","v":-0.3},{"g":"SAPCD1","s":"High_4","v":-0.35},{"g":"MT-CO3","s":"Control_1","v":0.8},{"g":"MT-CO3","s":"Control_2","v":1.2},{"g":"MT-CO3","s":"Control_3","v":1.6},{"g":"MT-CO3","s":"Control_4","v":0.6},{"g":"MT-CO3","s":"Low_1","v":0.65},{"g":"MT-CO3","s":"Low_2","v":-1.05},{"g":"MT-CO3","s":"Low_3","v":-1.25},{"g":"MT-CO3","s":"Low_4","v":-0.35},{"g":"MT-CO3","s":"High_1","v":-1.5},{"g":"MT-CO3","s":"High_2","v":0.08},{"g":"MT-CO3","s":"High_3","v":-0.1},{"g":"MT-CO3","s":"High_4","v":-0.55},{"g":"MT-CYB","s":"Control_1","v":0.85},{"g":"MT-CYB","s":"Control_2","v":1.2},{"g":"MT-CYB","s":"Control_3","v":1.6},{"g":"MT-CYB","s":"Control_4","v":0.4},{"g":"MT-CYB","s":"Low_1","v":0.9},{"g":"MT-CYB","s":"Low_2","v":-1.05},{"g":"MT-CYB","s":"Low_3","v":-1.25},{"g":"MT-CYB","s":"Low_4","v":-0.3},{"g":"MT-CYB","s":"High_1","v":-1.5},{"g":"MT-CYB","s":"High_2","v":0.2},{"g":"MT-CYB","s":"High_3","v":-0.35},{"g":"MT-CYB","s":"High_4","v":-0.35},{"g":"57399","s":"Control_1","v":0.9},{"g":"57399","s":"Control_2","v":0.4},{"g":"57399","s":"Control_3","v":1.85},{"g":"57399","s":"Control_4","v":1.65},{"g":"57399","s":"Low_1","v":0.12},{"g":"57399","s":"Low_2","v":-1.1},{"g":"57399","s":"Low_3","v":-0.75},{"g":"57399","s":"Low_4","v":-0.85},{"g":"57399","s":"High_1","v":-0.9},{"g":"57399","s":"High_2","v":0.02},{"g":"57399","s":"High_3","v":-0.75},{"g":"57399","s":"High_4","v":-0.1},{"g":"CLCN2","s":"Control_1","v":0.8},{"g":"CLCN2","s":"Control_2","v":1.6},{"g":"CLCN2","s":"Control_3","v":1.85},{"g":"CLCN2","s":"Control_4","v":0.9},{"g":"CLCN2","s":"Low_1","v":0.35},{"g":"CLCN2","s":"Low_2","v":-0.25},{"g":"CLCN2","s":"Low_3","v":-0.7},{"g":"CLCN2","s":"Low_4","v":-0.85},{"g":"CLCN2","s":"High_1","v":-0.85},{"g":"CLCN2","s":"High_2","v":-0.2},{"g":"CLCN2","s":"High_3","v":-1.1},{"g":"CLCN2","s":"High_4","v":-0.65},{"g":"ICOSLG","s":"Control_1","v":-0.25},{"g":"ICOSLG","s":"Control_2","v":0.85},{"g":"ICOSLG","s":"Control_3","v":2.4},{"g":"ICOSLG","s":"Control_4","v":1.1},{"g":"ICOSLG","s":"Low_1","v":0.2},{"g":"ICOSLG","s":"Low_2","v":-0.55},{"g":"ICOSLG","s":"Low_3","v":-0.6},{"g":"ICOSLG","s":"Low_4","v":-0.8},{"g":"ICOSLG","s":"High_1","v":-0.8},{"g":"ICOSLG","s":"High_2","v":-0.2},{"g":"ICOSLG","s":"High_3","v":-0.5},{"g":"ICOSLG","s":"High_4","v":-0.55}]},"mark":{"type":"rect","strokeWidth":0.4},"encoding":{"x":{"field":"s","type":"nominal","sort":null,"scale":{"paddingInner":0,"paddingOuter":0},"axis":{"title":null,"domain":false,"ticks":false,"labelAngle":90,"labelAlign":"left","labelBaseline":"middle","labelFontSize":14.4,"labelColor":"#222","labelPadding":6,"labelOverlap":false,"labelLimit":200}},"y":{"field":"g","type":"nominal","sort":null,"scale":{"paddingInner":0,"paddingOuter":0},"axis":{"orient":"right","title":null,"domain":false,"ticks":false,"labelFontSize":14.5,"labelColor":"#222","labelPadding":5,"labelOverlap":false,"labelLimit":200}},"color":{"field":"v","type":"quantitative","scale":{"domain":[-2.58,0,2.63],"range":["#2166AC","#FFFFFF","#B2182B"],"interpolate":"rgb"},"legend":{"orient":"none","legendX":301,"legendY":-18,"direction":"vertical","title":null,"values":[-2,-1,0,1,2],"gradientLength":199,"gradientThickness":13,"gradientStrokeWidth":0,"labelFontSize":13,"labelColor":"#222","labelOffset":4,"padding":0}},"stroke":{"field":"v","type":"quantitative","legend":null,"scale":{"domain":[-2.58,0,2.63],"range":["#2166AC","#FFFFFF","#B2182B"],"interpolate":"rgb"}}}}]}]}
